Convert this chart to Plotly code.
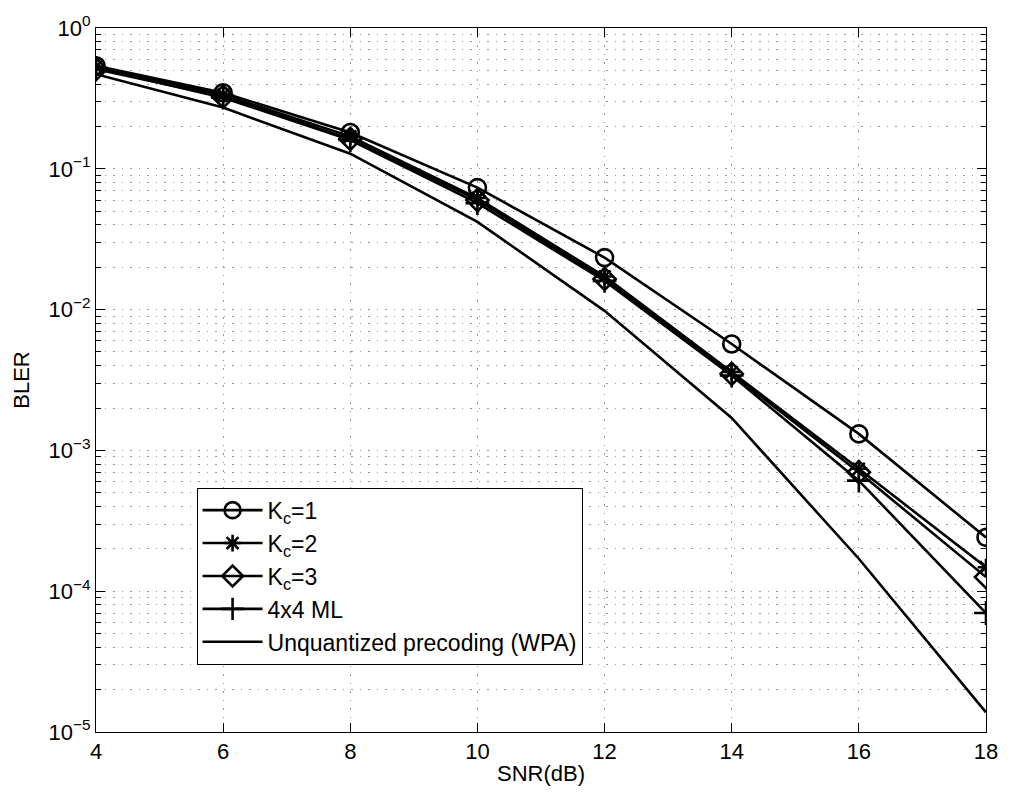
import plotly.graph_objects as go

# SNR points (dB) and block error rates per scheme
snr_db = [4, 6, 8, 10, 12, 14, 16, 18]
bler_kc1 = [0.54, 0.347, 0.181, 0.0735, 0.0234, 0.0057, 0.00131, 2.41e-4]
bler_kc2 = [0.53, 0.335, 0.170, 0.062, 0.0172, 0.0036, 7.4e-4, 1.48e-4]
bler_kc3 = [0.51, 0.325, 0.163, 0.060, 0.0165, 0.0035, 7.0e-4, 1.26e-4]
bler_ml = [0.52, 0.320, 0.160, 0.057, 0.0160, 0.0034, 6.1e-4, 7.0e-5]
bler_wpa = [0.47, 0.272, 0.128, 0.042, 0.0098, 0.0017, 1.7e-4, 1.38e-5]

x_ticks = [4, 6, 8, 10, 12, 14, 16, 18]
y_tick_vals = [1e-5, 1e-4, 1e-3, 1e-2, 1e-1, 1e0]
y_tick_text = ["10<sup>−5</sup>", "10<sup>−4</sup>", "10<sup>−3</sup>",
               "10<sup>−2</sup>", "10<sup>−1</sup>", "10<sup>0</sup>"]

FONT = "Liberation Sans, Arial, Helvetica, sans-serif"
FS = 22
LW = 2.6

series = [
    ("K<sub>c</sub>=1", bler_kc1, "circle-open", 17),
    ("K<sub>c</sub>=2", bler_kc2, "asterisk-open", 14),
    ("K<sub>c</sub>=3", bler_kc3, "diamond-open", 17),
    ("4x4 ML", bler_ml, "cross-thin-open", 17),
]

fig = go.Figure()
for name, vals, sym, size in series:
    fig.add_trace(go.Scatter(
        x=snr_db, y=vals, name=name, mode="lines+markers",
        line=dict(color="black", width=LW),
        marker=dict(symbol=sym, size=size, color="black",
                    line=dict(color="black", width=LW)),
    ))
fig.add_trace(go.Scatter(
    x=snr_db, y=bler_wpa, name="Unquantized precoding (WPA)", mode="lines",
    line=dict(color="black", width=LW),
))

grid_style = dict(gridcolor="#999999", gridwidth=1, griddash="1.5px,7px")

fig.update_layout(
    width=1010, height=798,
    margin=dict(l=96, r=21, t=27, b=66),
    paper_bgcolor="white", plot_bgcolor="white",
    font=dict(family=FONT, size=FS, color="black"),
    showlegend=True,
    legend=dict(
        x=0.113, y=0.347, xanchor="left", yanchor="top",
        bgcolor="white", bordercolor="black", borderwidth=1,
        font=dict(family=FONT, size=23, color="black"),
        tracegroupgap=0, itemwidth=60,
    ),
    xaxis=dict(
        range=[4, 18], tickvals=x_ticks, ticktext=[str(v) for v in x_ticks],
        showline=True, linecolor="black", linewidth=1, mirror="allticks",
        ticks="inside", ticklen=9, tickcolor="black",
        showgrid=True, zeroline=False, **grid_style,
        title=dict(text="SNR(dB)", standoff=2, font=dict(size=FS)),
        tickfont=dict(size=FS),
    ),
    yaxis=dict(
        type="log", range=[-5, 0],
        tickvals=y_tick_vals, ticktext=y_tick_text,
        showline=True, linecolor="black", linewidth=1, mirror="allticks",
        ticks="inside", ticklen=9, tickcolor="black",
        showgrid=True, zeroline=False, **grid_style,
        minor=dict(dtick="D1", ticks="inside", ticklen=5, tickcolor="black",
                   showgrid=True, **grid_style),
        title=dict(text="BLER", standoff=12, font=dict(size=FS)),
        tickfont=dict(size=FS),
        ticksuffix=" ",
    ),
)

fig.write_html("out.html")
